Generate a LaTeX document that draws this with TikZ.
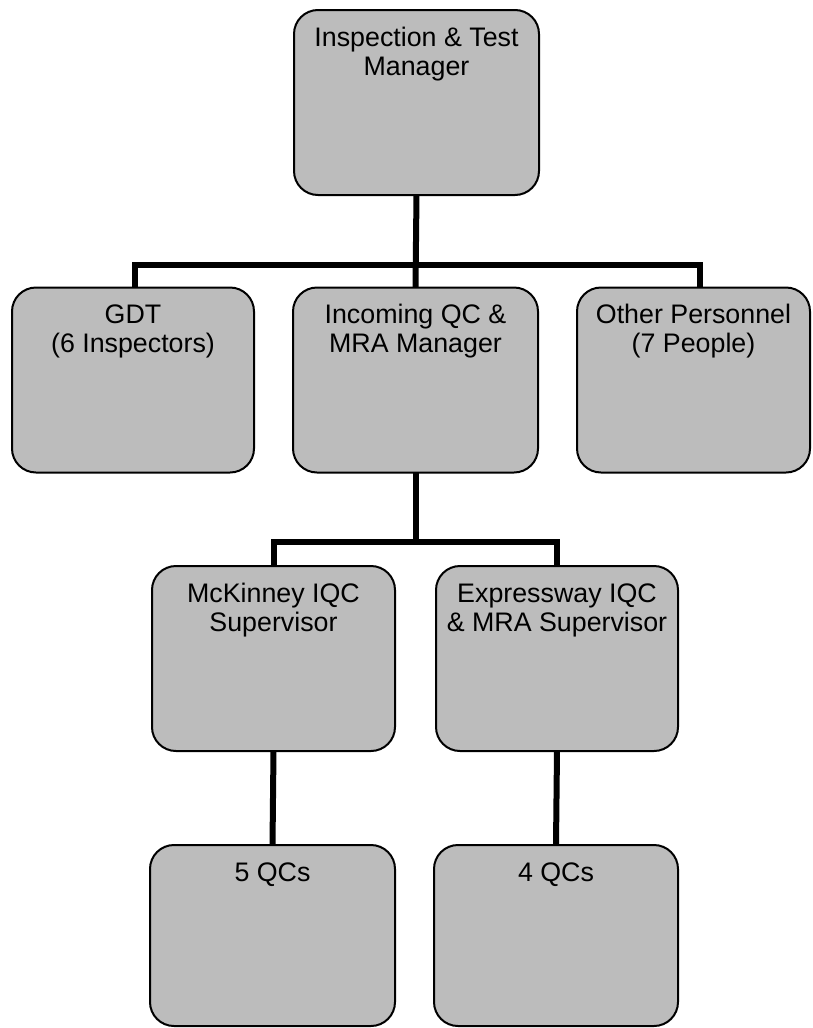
\documentclass[tikz,border=0pt]{standalone}
\usepackage{fontspec}
\setmainfont{Liberation Sans}
\usetikzlibrary{calc}

\definecolor{boxgray}{RGB}{188,188,188}

% fixed-size box contents: text set at the top, centred
\newcommand{\orgtext}[3]{%
  \parbox[c][#2pt][t]{#1pt}{\centering
    \fontsize{26.8pt}{29pt}\selectfont\rule{0pt}{36pt}#3}}

\tikzset{
  unit/.style={draw=black, line width=2pt, rounded corners=24pt,
    fill=boxgray, inner sep=0pt, outer sep=0pt},
  conn/.style={draw=black, line width=6pt}
}

\begin{document}
\begin{tikzpicture}[x=1pt, y=-1pt]
  \useasboundingbox (0,0) rectangle (812,1028);

  % level 1
  \node[unit] (top) at (416.5,102.5) {\orgtext{245}{185}{Inspection \& Test\\Manager}};

  % level 2
  \node[unit] (gdt) at (133,380)   {\orgtext{242}{185}{GDT\\(6 Inspectors)}};
  \node[unit] (inc) at (415.5,380) {\orgtext{245}{185}{Incoming QC \&\\MRA Manager}};
  \node[unit] (oth) at (693.5,380) {\orgtext{233}{185}{Other Personnel\\(7 People)}};

  % level 3
  \node[unit] (mck) at (273.5,658.5) {\orgtext{243}{185}{McKinney IQC\\Supervisor}};
  \node[unit] (exp) at (557,658.5)   {\orgtext{242}{185}{Expressway IQC\\\& MRA Supervisor}};

  % level 4
  \node[unit] (q5) at (272.5,935.5) {\orgtext{245}{181}{5 QCs}};
  \node[unit] (q4) at (556,935.5)   {\orgtext{244}{181}{4 QCs}};

  % bus lines
  \coordinate (busL) at (135,265);
  \coordinate (busR) at (700,265);
  \coordinate (bus2) at (0,542);

  \draw[conn] (top.south) -- (inc.north);
  \draw[conn] (gdt.north -| busL) |- (busR) -- (oth.north -| busR);

  \draw[conn] (inc.south) -- (inc.south |- bus2);
  \draw[conn] (mck.north) |- (exp.north |- bus2) -- (exp.north);

  \draw[conn] (mck.south) -- (q5.north);
  \draw[conn] (exp.south) -- (q4.north);
\end{tikzpicture}
\end{document}
